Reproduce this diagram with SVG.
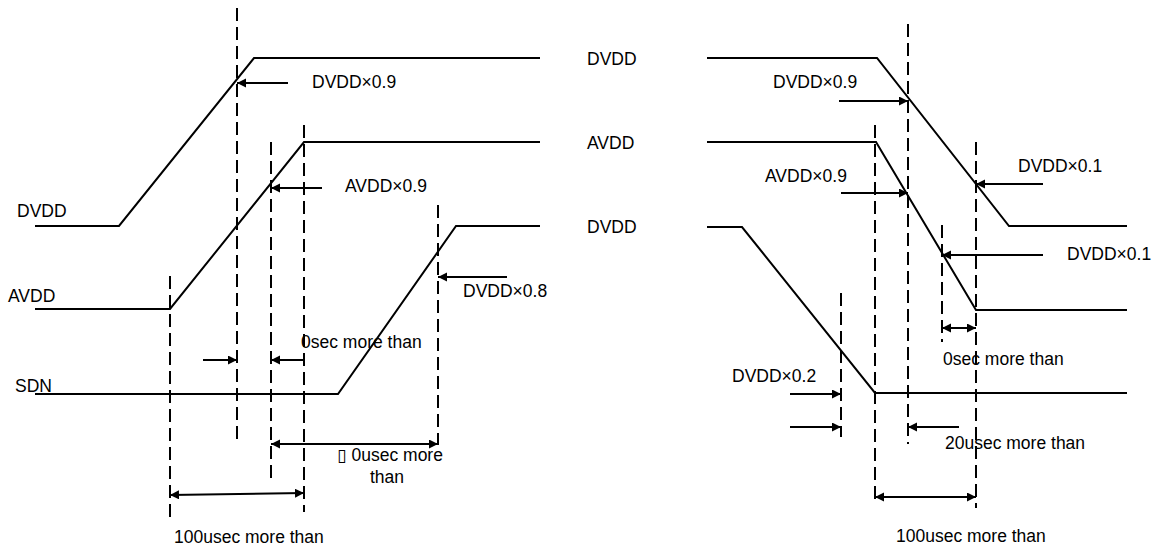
<svg xmlns="http://www.w3.org/2000/svg" width="1155" height="547" viewBox="0 0 1155 547">
<style>
.sig{fill:none;stroke:#000;stroke-width:2;stroke-linejoin:miter}
.dash{fill:none;stroke:#000;stroke-width:2;stroke-dasharray:13 6}
.arr{fill:none;stroke:#000;stroke-width:2;marker-end:url(#ah)}
.darr{fill:none;stroke:#000;stroke-width:2;marker-end:url(#ah);marker-start:url(#ahs)}
text{font-family:"Liberation Sans",Arial,"DejaVu Sans",sans-serif;font-size:17.5px;fill:#000}
</style>
<defs>
<marker id="ah" markerUnits="userSpaceOnUse" markerWidth="10" markerHeight="10" refX="9" refY="4.5" orient="auto"><path d="M0,0 L9,4.5 L0,9 z" fill="#000"/></marker>
<marker id="ahs" markerUnits="userSpaceOnUse" markerWidth="10" markerHeight="10" refX="9" refY="4.5" orient="auto-start-reverse"><path d="M0,0 L9,4.5 L0,9 z" fill="#000"/></marker>
</defs>
<rect width="1155" height="547" fill="#fff"/>

<g id="power-on">
<g id="on-signals">
<polyline class="sig" points="35,226 119,226 254,58 540,58"/>
<polyline class="sig" points="35,309 170,309 304,142 540,142"/>
<polyline class="sig" points="35,394 338,394 456,226 540,226"/>
</g>
<g id="on-guides">
<line class="dash" x1="170" y1="276" x2="170" y2="522"/>
<line class="dash" x1="237" y1="8" x2="237" y2="445"/>
<line class="dash" x1="271" y1="142" x2="271" y2="478"/>
<line class="dash" x1="304" y1="125" x2="304" y2="512"/>
<line class="dash" x1="438" y1="205" x2="438" y2="445"/>
</g>
<g id="on-connectors">
<line class="arr" x1="288" y1="83" x2="237" y2="83"/>
<line class="arr" x1="322" y1="188" x2="271" y2="188"/>
<line class="arr" x1="507" y1="277" x2="438" y2="277"/>
<line class="arr" x1="203" y1="360" x2="237" y2="360"/>
<line class="arr" x1="304" y1="360" x2="271" y2="360"/>
<line class="darr" x1="271" y1="444" x2="438" y2="444"/>
<line class="darr" x1="170" y1="495" x2="304" y2="493"/>
</g>
<g id="on-labels">
<text x="17" y="217">DVDD</text>
<text x="8" y="302">AVDD</text>
<text x="15" y="392">SDN</text>
<text x="312" y="88">DVDD×0.9</text>
<text x="345" y="192">AVDD×0.9</text>
<text x="463" y="297">DVDD×0.8</text>
<text x="301" y="348">0sec more than</text>
<text x="337" y="461">▯ 0usec more</text>
<text x="370" y="483">than</text>
<text x="174" y="543">100usec more than</text>
</g>
</g>

<g id="power-off">
<g id="off-signals">
<polyline class="sig" points="707,58 877,58 1009,226 1127,226"/>
<polyline class="sig" points="707,142 876,142 976,310 1127,310"/>
<polyline class="sig" points="707,227 742,227 875,393 1127,393"/>
</g>
<g id="off-guides">
<line class="dash" x1="841" y1="293" x2="841" y2="437"/>
<line class="dash" x1="875" y1="125" x2="875" y2="500"/>
<line class="dash" x1="908" y1="24" x2="908" y2="444"/>
<line class="dash" x1="942" y1="225" x2="942" y2="342"/>
<line class="dash" x1="976" y1="142" x2="976" y2="508"/>
</g>
<g id="off-connectors">
<line class="arr" x1="839" y1="101" x2="908" y2="101"/>
<line class="arr" x1="841" y1="193" x2="908" y2="193"/>
<line class="arr" x1="1043" y1="184" x2="976" y2="184"/>
<line class="arr" x1="1043" y1="255" x2="942" y2="255"/>
<line class="darr" x1="942" y1="328" x2="976" y2="328"/>
<line class="arr" x1="790" y1="394" x2="841" y2="394"/>
<line class="arr" x1="790" y1="427" x2="841" y2="427"/>
<line class="arr" x1="959" y1="427" x2="908" y2="427"/>
<line class="darr" x1="875" y1="497" x2="976" y2="497"/>
</g>
<g id="off-labels">
<text x="587" y="65">DVDD</text>
<text x="587" y="149">AVDD</text>
<text x="587" y="233">DVDD</text>
<text x="773" y="88">DVDD×0.9</text>
<text x="765" y="182">AVDD×0.9</text>
<text x="1018" y="172">DVDD×0.1</text>
<text x="1067" y="260">DVDD×0.1</text>
<text x="943" y="365">0sec more than</text>
<text x="732" y="382">DVDD×0.2</text>
<text x="945" y="449">20usec more than</text>
<text x="896" y="542">100usec more than</text>
</g>
</g>
</svg>
